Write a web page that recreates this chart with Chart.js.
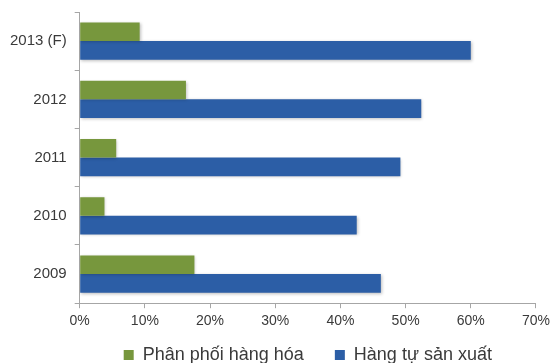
<!DOCTYPE html>
<html lang="vi">
<head>
  <meta charset="UTF-8">
  <title>Phân phối hàng hóa / Hàng tự sản xuất</title>
  <script src="https://cdn.jsdelivr.net/npm/chart.js"></script>
  <style>
    html, body { margin: 0; padding: 0; background: #fff; }
    .wrap { width: 555px; height: 363px; position: relative; }
  </style>
</head>
<body>
  <div class="wrap"><canvas id="chart"></canvas></div>
  <script>
    const years = ['2013 (F)', '2012', '2011', '2010', '2009'];
    const distribution = [9.2, 16.3, 5.6, 3.8, 17.6];   // Phân phối hàng hóa
    const ownProduction = [60.0, 52.4, 49.2, 42.5, 46.2]; // Hàng tự sản xuất
    const xTicks = [0, 10, 20, 30, 40, 50, 60, 70];

    // soft shadow under the bars, like the original office chart
    const barShadow = {
      id: 'barShadow',
      beforeDatasetsDraw(chart) {
        const ctx = chart.ctx;
        ctx.save();
        ctx.shadowColor = 'rgba(0,0,0,0.25)';
        ctx.shadowBlur = 3;
        ctx.shadowOffsetX = 1;
        ctx.shadowOffsetY = 1;
      },
      afterDatasetsDraw(chart) {
        chart.ctx.restore();
      }
    };

    const font = 'Liberation Sans, Arial, sans-serif';

    const ctx = document.getElementById('chart').getContext('2d');
    new Chart(ctx, {
      type: 'bar',
      data: {
        labels: years,
        datasets: [{
          label: 'Phân phối hàng hóa',
          data: distribution,
          backgroundColor: '#77973d',
          borderWidth: 0
        }, {
          label: 'Hàng tự sản xuất',
          data: ownProduction,
          backgroundColor: '#2c5ea6',
          borderWidth: 0
        }]
      },
      plugins: [barShadow],
      options: {
        indexAxis: 'y',
        responsive: true,
        maintainAspectRatio: false,
        animation: false,
        layout: { padding: { top: 12, right: 14, left: 2, bottom: -11 } },
        datasets: {
          bar: { categoryPercentage: 0.64, barPercentage: 1.0 }
        },
        scales: {
          x: {
            min: 0,
            max: 70,
            afterBuildTicks: axis => { axis.ticks = xTicks.map(v => ({ value: v })); },
            grid: { drawOnChartArea: false, drawTicks: true, tickLength: 5, color: '#a6a6a6' },
            border: { display: true, color: '#a6a6a6' },
            ticks: {
              callback: v => v + '%',
              color: '#3a3a3a',
              font: { family: font, size: 14 },
              padding: 5
            }
          },
          y: {
            afterFit: s => { s.paddingTop = 0; s.paddingBottom = 0; },
            grid: { drawOnChartArea: false, drawTicks: true, tickLength: 5, offset: true, color: '#a6a6a6' },
            border: { display: true, color: '#a6a6a6' },
            ticks: {
              color: '#3a3a3a',
              font: { family: font, size: 15 },
              padding: 8
            }
          }
        },
        plugins: {
          legend: {
            position: 'bottom',
            fullSize: false,
            labels: {
              boxWidth: 10,
              boxHeight: 10,
              padding: 11,
              color: '#3a3a3a',
              font: { family: font, size: 18 },
              // a little extra room after the first entry, as in the original
              generateLabels: chart => Chart.defaults.plugins.legend.labels.generateLabels(chart)
                .map((item, i) => i === 0 ? { ...item, text: item.text + '    ' } : item)
            }
          },
          tooltip: { enabled: false }
        }
      }
    });
  </script>
</body>
</html>
